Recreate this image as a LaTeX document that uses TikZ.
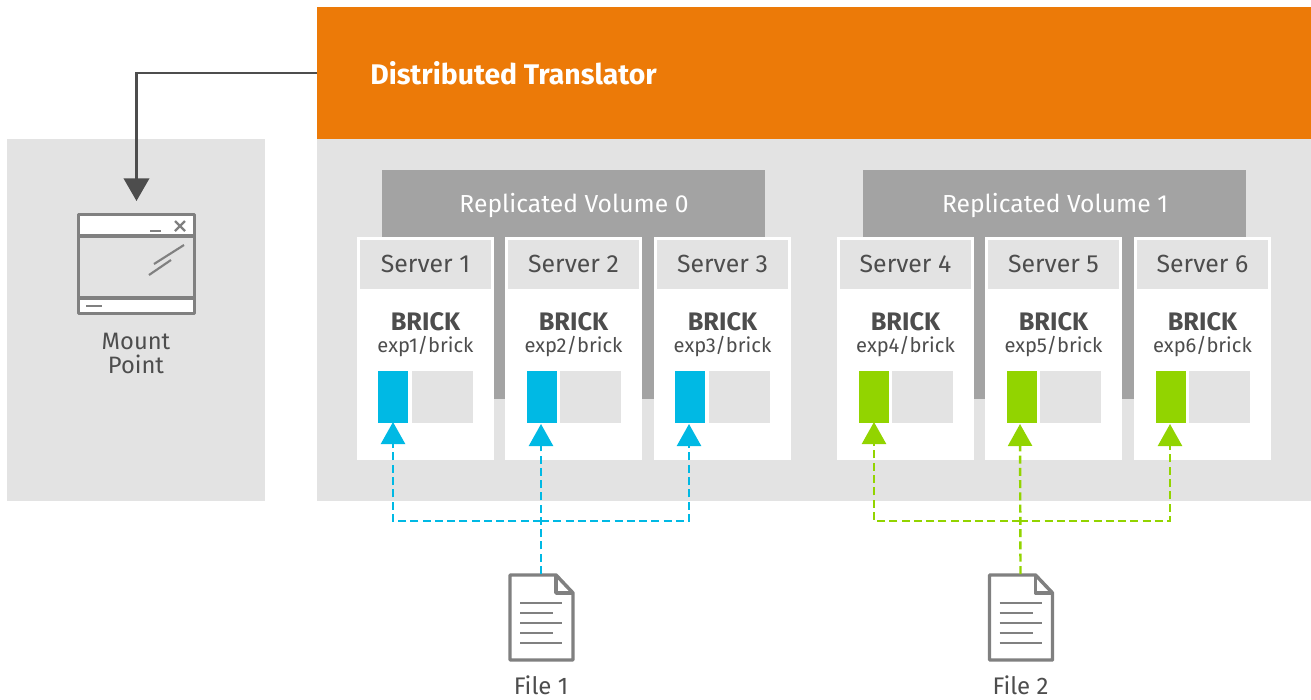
\documentclass[tikz,border=0pt]{standalone}
\usepackage{fontspec}
\setmainfont{Fira Sans}
\usetikzlibrary{arrows.meta,calc}
\definecolor{orangeC}{HTML}{EC7A08}
\definecolor{panelC}{HTML}{E3E3E3}
\definecolor{volC}{HTML}{A3A3A3}
\definecolor{txtC}{HTML}{4D4D4D}
\definecolor{iconC}{HTML}{808080}
\definecolor{blueC}{HTML}{00B9E4}
\definecolor{greenC}{HTML}{92D400}
\tikzset{
  rect/.style={rectangle,draw=none,inner sep=0pt,outer sep=0pt,anchor=north west},
  lbl/.style={text=txtC,inner sep=0pt,align=center},
  srv/.style={lbl,font=\fontsize{18.6pt}{20pt}\selectfont},
  brick/.style={lbl,font=\fontsize{19pt}{20pt}\selectfont\bfseries},
  exp/.style={lbl,font=\fontsize{15.1pt}{20pt}\selectfont},
  vol/.style={inner sep=0pt,text=white,font=\fontsize{18.5pt}{20pt}\selectfont},
  icon/.style={draw=iconC,line width=2.5pt,line join=round},
  thin icon/.style={draw=iconC,line width=1.6pt},
  link/.style={line width=1.8pt,dash pattern=on 6pt off 3.2pt},
  tip/.style={-{Triangle[length=16.5pt,width=18pt]}}
}
\newcommand{\pxbox}[6]{\node[rect,fill=#2,minimum width=((#5)-(#3))*0.75pt,minimum height=((#6)-(#4))*0.75pt] (#1) at (#3,#4) {};}
\begin{document}
\begin{tikzpicture}[x=0.75pt,y=-0.75pt]
\useasboundingbox (0,0) rectangle (1311,700);
\fill[white] (0,0) rectangle (1311,700);
% panels
\pxbox{mount}{panelC}{7}{139}{265}{501}
\pxbox{main}{panelC}{317}{139}{1311}{501}
\pxbox{dht}{orangeC}{317}{7}{1311}{139}
\node[anchor=west,inner sep=0pt,text=white,font=\fontsize{21.3pt}{24pt}\selectfont\bfseries] (dhtlabel) at (370,73) {Distributed Translator};
% volumes
\pxbox{vol0}{volC}{382}{170}{765}{399}
\pxbox{vol1}{volC}{863}{170}{1246}{399}
\node[vol] (vol0label) at (574,206) {Replicated Volume 0};
\node[vol] (vol1label) at (1055,206) {Replicated Volume 1};
% servers: index / box left / bar left / grey left / tip x / colour
\foreach \i/\x/\b/\g/\col in {1/357/378/412/blueC,2/505/527/560/blueC,3/654/675/709/blueC,4/837/859/892/greenC,5/985/1007/1040/greenC,6/1134/1156/1189/greenC}{
  \pxbox{srv\i}{white}{\x}{237}{\x+137}{460}
  \pxbox{head\i}{panelC}{\x+3}{240}{\x+134}{289}
  \pxbox{bar\i}{\col}{\b}{371}{\b+30}{423}
  \pxbox{free\i}{panelC}{\g}{371}{\g+61}{423}
  \node[srv] (name\i) at (\x+68.5,264) {Server \i};
  \node[brick] (brick\i) at (\x+68.5,322) {BRICK};
  \node[exp] (exp\i) at (\x+68.5,346.5) {exp\i/brick};
}
% files
\node[rect,minimum width=48pt,minimum height=65pt] (file1) at (509,574) {};
\node[rect,minimum width=48pt,minimum height=65pt] (file2) at (988.5,574) {};
\foreach \f/\n in {file1/File 1,file2/File 2}{
  \begin{scope}[shift={(\f.north west)}]
    \draw[icon,line width=2.6pt] (1,1) -- (47,1) -- (64,19) -- (64,86) -- (1,86) -- cycle;
    \draw[icon,line width=2.6pt] (47,1) -- (47,19) -- (64,19);
    \foreach \yy/\xx in {29/53,39/44,49/53,59/44,69/53}
      \draw[thin icon] (11,\yy) -- (\xx,\yy);
  \end{scope}
  \node[lbl,font=\fontsize{18pt}{20pt}\selectfont,anchor=north] (\f label) at ($(\f.south)+(0,15)$) {\n};
}
% blue connectors
\coordinate (busB) at (541,521);
\coordinate (tip1) at ([yshift=0.75pt]bar1.south);
\coordinate (tip2) at (541,424);
\coordinate (tip3) at (689,424);
\draw[link,blueC,tip] (file1.north) -- (tip2);
\draw[link,blueC,tip] (busB) -| (tip1);
\draw[link,blueC,tip] (busB) -| (tip3);
% green connectors
\coordinate (busG) at (1020,521);
\coordinate (tip4) at ([yshift=0.75pt]bar4.south);
\coordinate (tip5) at (1020,424);
\coordinate (tip6) at (1170,424);
\draw[link,greenC,tip] (file2.north) -- (tip5);
\draw[link,greenC,tip] (busG) -| (tip4);
\draw[link,greenC,tip] (busG) -| (tip6);
% mount point window
\pxbox{win}{panelC}{77}{213}{196}{315}
\fill[white] (79,215) rectangle (194,236);
\fill[white] (79,298) rectangle (194,313);
\draw[icon,line width=2.7pt] (78.5,214.5) rectangle (194.5,313.5);
\draw[icon,line width=2.3pt] (78,236) -- (195,236);
\draw[icon,line width=2.3pt] (78,298) -- (195,298);
\draw[thin icon] (150,231) -- (161,231);
\draw[thin icon] (175,221) -- (185,231) (175,231) -- (185,221);
\draw[thin icon] (154,264) -- (184,245);
\draw[thin icon] (149,275) -- (171,260);
\draw[thin icon] (86,306) -- (102,306);
\node[lbl,font=\fontsize{17.8pt}{18pt}\selectfont,anchor=north] (mountlabel) at (136,333) {Mount\\Point};
% DHT to mount point
\draw[txtC,line width=2.1pt,-{Triangle[length=17pt,width=19pt]},shorten >=9pt] (dht.west) -| (win.north);
\end{tikzpicture}
\end{document}
